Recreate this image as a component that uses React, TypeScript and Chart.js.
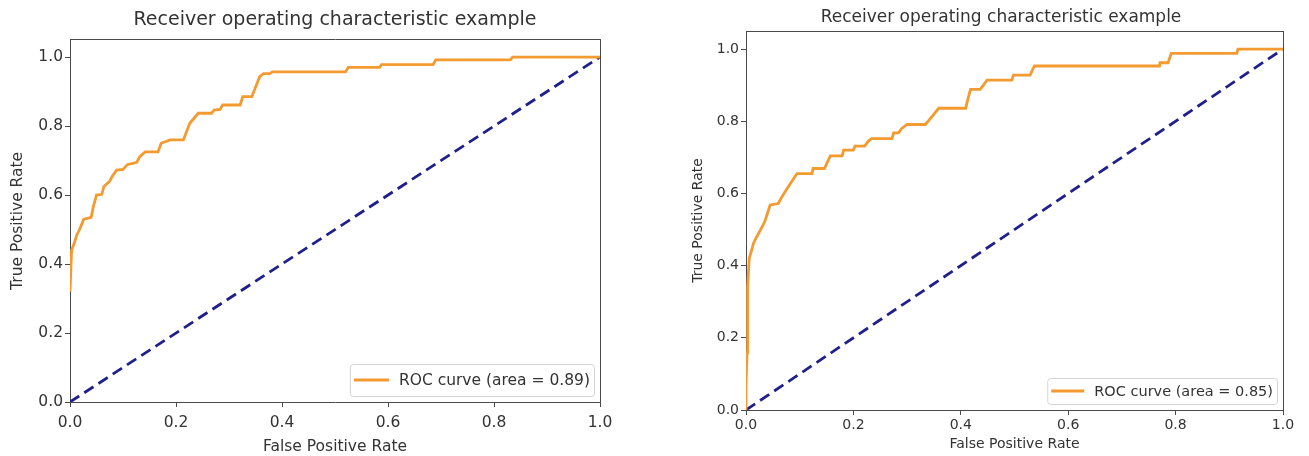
import React, { useEffect, useRef } from "react";
import { Chart, registerables } from "chart.js";

Chart.register(...registerables);

// ---------- data ----------
const TITLE = "Receiver operating characteristic example";
const X_LABEL = "False Positive Rate";
const Y_LABEL = "True Positive Rate";
const TICK_VALUES = [0, 0.2, 0.4, 0.6, 0.8, 1.0];

const DIAG_FPR = [0, 1];
const DIAG_TPR = [0, 1];

const LEFT_AUC = 0.89;
const LEFT_FPR = [
  0.0, 0.003, 0.008, 0.013, 0.018, 0.022, 0.026, 0.04, 0.044, 0.05, 0.06, 0.064,
  0.075, 0.08, 0.088, 0.1, 0.108, 0.126, 0.132, 0.142, 0.166, 0.172, 0.189, 0.214,
  0.226, 0.242, 0.267, 0.272, 0.283, 0.288, 0.321, 0.326, 0.343, 0.358, 0.365, 0.377,
  0.382, 0.52, 0.525, 0.584, 0.588, 0.685, 0.69, 0.831, 0.835, 1.0,
];
const LEFT_TPR = [
  0.32, 0.44, 0.46, 0.485, 0.5, 0.515, 0.53, 0.535, 0.566, 0.6, 0.602, 0.625,
  0.64, 0.655, 0.672, 0.674, 0.688, 0.695, 0.712, 0.725, 0.725, 0.75, 0.76, 0.76,
  0.808, 0.837, 0.837, 0.846, 0.848, 0.861, 0.861, 0.885, 0.885, 0.943, 0.952, 0.952,
  0.957, 0.957, 0.97, 0.97, 0.978, 0.978, 0.992, 0.992, 1.0, 1.0,
];

const RIGHT_AUC = 0.85;
const RIGHT_FPR = [
  0.0, 0.0, 0.002, 0.003, 0.006, 0.01, 0.014, 0.02, 0.027, 0.035, 0.04, 0.045,
  0.06, 0.067, 0.079, 0.091, 0.095, 0.123, 0.125, 0.146, 0.157, 0.179, 0.182, 0.2,
  0.203, 0.221, 0.228, 0.234, 0.272, 0.275, 0.284, 0.29, 0.3, 0.334, 0.342, 0.35,
  0.359, 0.409, 0.413, 0.418, 0.436, 0.442, 0.449, 0.495, 0.498, 0.529, 0.537, 0.77,
  0.771, 0.786, 0.792, 0.914, 0.916, 1.0,
];
const RIGHT_TPR = [
  0.0, 0.07, 0.16, 0.34, 0.42, 0.44, 0.462, 0.48, 0.499, 0.522, 0.545, 0.568,
  0.572, 0.591, 0.619, 0.646, 0.655, 0.655, 0.669, 0.669, 0.704, 0.704, 0.72, 0.72,
  0.731, 0.731, 0.745, 0.752, 0.752, 0.768, 0.768, 0.78, 0.791, 0.791, 0.805, 0.82,
  0.836, 0.836, 0.86, 0.888, 0.888, 0.9, 0.914, 0.914, 0.928, 0.928, 0.953, 0.953,
  0.962, 0.962, 0.988, 0.988, 1.0, 1.0,
];

// ---------- styles ----------
const ORANGE = "#f39a30";
const NAVY = "#20208a";
const FRAME = "#4a4a4a";
const TEXT = "#333333";
const FONT = "'DejaVu Sans', sans-serif";

Chart.defaults.font.family = FONT;

type Look = {
  left: number;
  width: number;
  height: number;
  yAxisW: number;
  rightW: number;
  xAxisH: number;
  titleSize: number;
  titlePadTop: number;
  titlePadBottom: number;
  tickSize: number;
  labelSize: number;
  tickLen: number;
  xTickPad: number;
  yTickPad: number;
  yTitlePad: number;
  xTitlePad: number;
  lineW: number;
  legend: {
    fontSize: number;
    padX: number;
    padY: number;
    sample: number;
    gap: number;
    rowH: number;
    inset: number;
  };
};

const LEFT_LOOK: Look = {
  left: 0,
  width: 670,
  height: 456,
  yAxisW: 70,
  rightW: 70,
  xAxisH: 54,
  titleSize: 19,
  titlePadTop: 9,
  titlePadBottom: 8,
  tickSize: 15.5,
  labelSize: 15.5,
  tickLen: 5,
  xTickPad: 7,
  yTickPad: 2,
  yTitlePad: 9,
  xTitlePad: 0,
  lineW: 2.8,
  legend: { fontSize: 15.5, padX: 4, padY: 6, sample: 35, gap: 10, rowH: 20, inset: 6 },
};

const RIGHT_LOOK: Look = {
  left: 690,
  width: 622,
  height: 456,
  yAxisW: 56,
  rightW: 29,
  xAxisH: 46,
  titleSize: 17,
  titlePadTop: 7,
  titlePadBottom: 3.6,
  tickSize: 14,
  labelSize: 14,
  tickLen: 5,
  xTickPad: 2,
  yTickPad: 2,
  yTitlePad: 0,
  xTitlePad: 3,
  lineW: 2.8,
  legend: { fontSize: 14.5, padX: 4, padY: 4, sample: 33, gap: 10, rowH: 18, inset: 6 },
};

const innerLegend = {
  id: "innerLegend",
  afterDatasetsDraw(chart: any, _args: any, o: any) {
    const items = chart.data.datasets.filter((d: any) => d.label);
    if (!items.length) return;
    const { ctx, chartArea: a } = chart;
    ctx.save();
    ctx.font = `${o.fontSize}px ${FONT}`;
    const rows = items.map((d: any) => ({
      text: d.label,
      color: d.borderColor,
      w: ctx.measureText(d.label).width,
    }));
    const textW = Math.max(...rows.map((r: any) => r.w));
    const boxW = o.padX * 2 + o.sample + o.gap + textW;
    const boxH = rows.length * o.rowH + o.padY * 2;
    const x = a.right - o.inset - boxW;
    const y = a.bottom - o.inset - boxH;
    ctx.beginPath();
    ctx.roundRect(x + 0.5, y + 0.5, boxW, boxH, 3);
    ctx.fillStyle = "rgba(255,255,255,0.9)";
    ctx.fill();
    ctx.strokeStyle = "#d4d4d4";
    ctx.lineWidth = 1;
    ctx.stroke();
    rows.forEach((r: any, i: number) => {
      const cy = y + o.padY + o.rowH * (i + 0.5);
      ctx.beginPath();
      ctx.moveTo(x + o.padX, cy);
      ctx.lineTo(x + o.padX + o.sample, cy);
      ctx.strokeStyle = r.color;
      ctx.lineWidth = 2.8;
      ctx.stroke();
      ctx.fillStyle = TEXT;
      ctx.textBaseline = "middle";
      ctx.textAlign = "left";
      ctx.fillText(r.text, x + o.padX + o.sample + o.gap, cy + 1);
    });
    ctx.restore();
  },
};

function RocChart({ fpr, tpr, auc, look }: { fpr: number[]; tpr: number[]; auc: number; look: Look }) {
  const ref = useRef<HTMLCanvasElement | null>(null);

  useEffect(() => {
    if (!ref.current) return;
    const tickFont = { family: FONT, size: look.tickSize };
    const labelFont = { family: FONT, size: look.labelSize };
    const fixedTicks = (s: any) => {
      s.ticks = TICK_VALUES.map((v) => ({ value: v }));
    };
    const chart = new Chart(ref.current, {
      type: "line",
      data: {
        datasets: [
          {
            label: `ROC curve (area = ${auc.toFixed(2)})`,
            data: fpr.map((x, i) => ({ x, y: tpr[i] })),
            borderColor: ORANGE,
            backgroundColor: ORANGE,
            borderWidth: look.lineW,
            pointRadius: 0,
            tension: 0,
            fill: false,
          },
          {
            label: "",
            data: DIAG_FPR.map((x, i) => ({ x, y: DIAG_TPR[i] })),
            borderColor: NAVY,
            backgroundColor: NAVY,
            borderWidth: look.lineW,
            borderDash: [11, 6],
            pointRadius: 0,
            tension: 0,
            fill: false,
          },
        ],
      },
      options: {
        animation: false,
        responsive: false,
        devicePixelRatio: 1,
        events: [],
        layout: { autoPadding: false, padding: 0 },
        plugins: {
          legend: { display: false },
          tooltip: { enabled: false },
          title: {
            display: true,
            text: TITLE,
            color: TEXT,
            font: { family: FONT, size: look.titleSize, weight: "normal" },
            padding: { top: look.titlePadTop, bottom: look.titlePadBottom },
          },
          innerLegend: look.legend,
        } as any,
        scales: {
          x: {
            type: "linear",
            position: "bottom",
            min: 0,
            max: 1,
            afterBuildTicks: fixedTicks,
            afterFit: (s: any) => {
              s.height = look.xAxisH;
            },
            ticks: {
              callback: (v: any) => Number(v).toFixed(1),
              font: tickFont,
              color: TEXT,
              padding: look.xTickPad,
              maxRotation: 0,
              autoSkip: false,
            },
            grid: {
              display: true,
              drawOnChartArea: false,
              drawTicks: true,
              tickLength: look.tickLen,
              color: FRAME,
            },
            border: { display: true, color: FRAME, width: 1 },
            title: {
              display: true,
              text: X_LABEL,
              color: TEXT,
              font: labelFont,
              padding: { top: 0, bottom: look.xTitlePad },
            },
          },
          y: {
            type: "linear",
            position: "left",
            min: 0,
            max: 1.05,
            afterBuildTicks: fixedTicks,
            afterFit: (s: any) => {
              s.width = look.yAxisW;
            },
            ticks: {
              callback: (v: any) => Number(v).toFixed(1),
              font: tickFont,
              color: TEXT,
              padding: look.yTickPad,
              autoSkip: false,
            },
            grid: {
              display: true,
              drawOnChartArea: false,
              drawTicks: true,
              tickLength: look.tickLen,
              color: FRAME,
            },
            border: { display: true, color: FRAME, width: 1 },
            title: {
              display: true,
              text: Y_LABEL,
              color: TEXT,
              font: labelFont,
              padding: { top: look.yTitlePad, bottom: 0 },
            },
          },
          x2: {
            type: "linear",
            position: "top",
            min: 0,
            max: 1,
            ticks: { display: false },
            grid: { display: false },
            border: { display: true, color: FRAME, width: 1 },
            afterFit: (s: any) => {
              s.height = 0;
            },
          },
          y2: {
            type: "linear",
            position: "right",
            min: 0,
            max: 1.05,
            ticks: { display: false },
            grid: { display: false },
            border: { display: true, color: FRAME, width: 1 },
            afterFit: (s: any) => {
              s.width = look.rightW;
            },
          },
        },
      } as any,
      plugins: [innerLegend],
    });
    return () => chart.destroy();
  }, [fpr, tpr, auc, look]);

  return (
    <div style={{ position: "absolute", left: look.left, top: 0, width: look.width, height: look.height }}>
      <canvas ref={ref} width={look.width} height={look.height} style={{ display: "block" }} />
    </div>
  );
}

export default function App() {
  return (
    <div
      style={{
        position: "absolute",
        left: 0,
        top: 0,
        width: 1309,
        height: 456,
        overflow: "hidden",
        background: "#ffffff",
      }}
    >
      <RocChart fpr={LEFT_FPR} tpr={LEFT_TPR} auc={LEFT_AUC} look={LEFT_LOOK} />
      <RocChart fpr={RIGHT_FPR} tpr={RIGHT_TPR} auc={RIGHT_AUC} look={RIGHT_LOOK} />
    </div>
  );
}
